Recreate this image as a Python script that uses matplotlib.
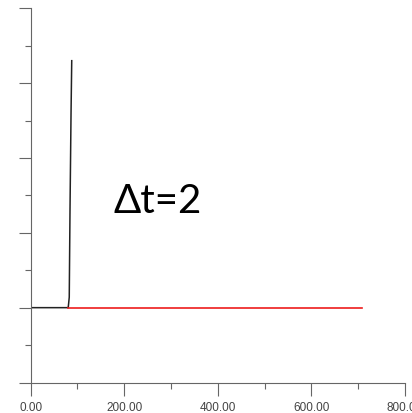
import matplotlib
matplotlib.use("Agg")
import matplotlib.pyplot as plt
from matplotlib.ticker import MultipleLocator, FormatStrFormatter, NullFormatter

# black curve (spike)
x_black = [0, 78, 80.2, 82.4, 84.0, 86.2, 87.7]
y_black = [0, 0, 0.0, 0.14, 1.3, 2.59, 3.3]

# red baseline
x_red = [80, 709]
y_red = [0, 0]

label = "\u0394t=2"

fig = plt.figure(figsize=(4.12, 4.13), dpi=100)
ax = fig.add_axes([30.7/412, 1 - 382.5/413, (405 - 30.7)/412, (382.5 - 8.3)/413])

ax.plot(x_black, y_black, color="#222222", lw=1.1)
ax.plot(x_red, y_red, color="#ee1c1c", lw=1.2)

ax.set_xlim(0, 800)
ax.set_ylim(-1, 4)

ax.xaxis.set_major_locator(MultipleLocator(200))
ax.xaxis.set_minor_locator(MultipleLocator(100))
ax.xaxis.set_major_formatter(FormatStrFormatter("%.2f"))
ax.yaxis.set_major_locator(MultipleLocator(1))
ax.yaxis.set_minor_locator(MultipleLocator(0.5))
ax.yaxis.set_major_formatter(NullFormatter())

for s in ["top", "right"]:
    ax.spines[s].set_visible(False)
for s in ["left", "bottom"]:
    ax.spines[s].set_color("#666666")
    ax.spines[s].set_linewidth(0.8)

ax.tick_params(which="major", direction="out", length=9, width=0.8, color="#666666",
               labelsize=8.5, labelcolor="#444444", pad=5)
ax.tick_params(which="minor", direction="out", length=4.5, width=0.8, color="#666666")
for t in ax.get_xticklabels():
    t.set_fontfamily("Liberation Sans")

ax.text(176, 1.26, label, fontsize=29, family="Lato", ha="left", va="baseline", color="black")

fig.savefig("out.png", dpi=100)
